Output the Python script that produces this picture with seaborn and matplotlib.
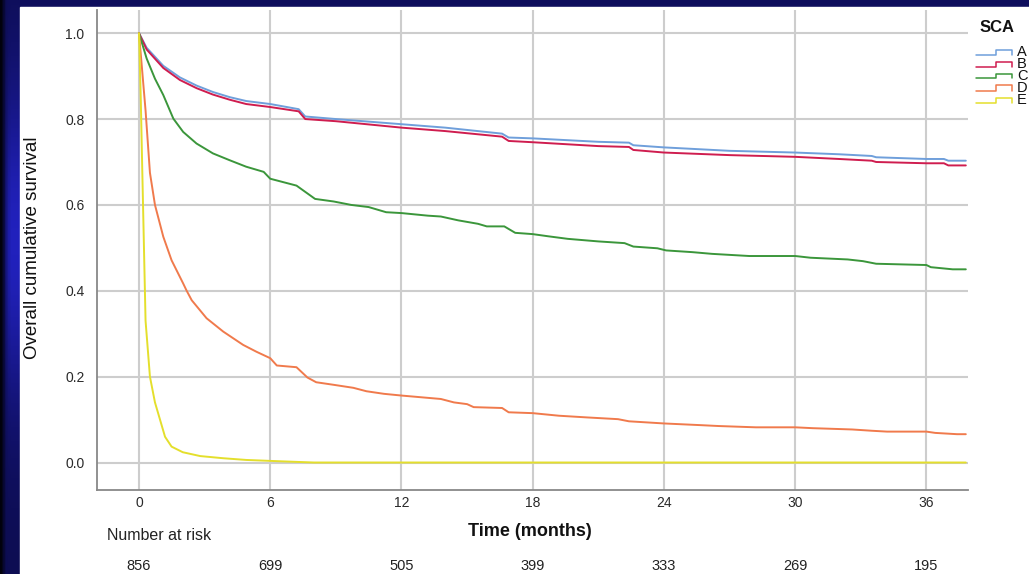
import numpy as np
import pandas as pd
import matplotlib.pyplot as plt
import matplotlib.transforms as mtransforms
from matplotlib.lines import Line2D
from matplotlib.patches import Rectangle
import seaborn as sns

# Kaplan-Meier curves (months, cumulative survival)
a_time = [0, 0.35, 1.11, 1.87, 2.63, 3.38, 4.15, 4.9, 6, 7.3, 7.6, 9, 12, 14, 16.6, 16.9, 18, 21,
          22.4, 22.6, 24, 27, 30, 32, 33.5, 33.7, 36, 36.8, 37, 37.8]
a_surv = [1.0, 0.966, 0.924, 0.897, 0.878, 0.863, 0.851, 0.842, 0.835, 0.823, 0.806, 0.800, 0.788,
          0.780, 0.766, 0.757, 0.755, 0.747, 0.745, 0.739, 0.734, 0.726, 0.722, 0.718, 0.714, 0.711,
          0.707, 0.707, 0.703, 0.703]
b_time = a_time
b_surv = [1.0, 0.962, 0.919, 0.891, 0.872, 0.857, 0.845, 0.835, 0.828, 0.818, 0.800, 0.795, 0.780,
          0.772, 0.759, 0.749, 0.746, 0.737, 0.735, 0.728, 0.722, 0.716, 0.712, 0.707, 0.703, 0.700,
          0.697, 0.697, 0.692, 0.692]
c_time = [0, 0.35, 0.73, 1.11, 1.57, 2.02, 2.63, 3.38, 4.15, 4.9, 5.7, 6, 7.2, 8.05, 8.9, 9.7, 10.5,
          11.3, 12, 13.2, 13.8, 14.6, 15.5, 15.9, 16.7, 17.2, 18, 18.7, 19.6, 21, 22.2, 22.6, 23.7,
          24.1, 25.3, 26.2, 27.9, 30, 30.7, 32.4, 33.1, 33.7, 36, 36.2, 37.2, 37.8]
c_surv = [1.0, 0.941, 0.894, 0.856, 0.801, 0.770, 0.743, 0.720, 0.704, 0.689, 0.677, 0.661, 0.645,
          0.614, 0.608, 0.600, 0.595, 0.583, 0.581, 0.575, 0.573, 0.564, 0.556, 0.550, 0.550, 0.535,
          0.532, 0.527, 0.521, 0.515, 0.511, 0.503, 0.499, 0.494, 0.490, 0.486, 0.481, 0.481, 0.477,
          0.473, 0.469, 0.463, 0.460, 0.455, 0.450, 0.450]
d_time = [0, 0.3, 0.5, 0.73, 1.11, 1.49, 2.02, 2.18, 2.41, 3.09, 3.85, 4.76, 5.37, 6, 6.3, 7.2, 7.7,
          8.1, 8.9, 9.8, 10.4, 11.2, 12, 12.9, 13.8, 14.4, 15, 15.3, 16.6, 16.9, 18, 19.2, 20.5, 21.9,
          22.4, 24, 25.7, 26.5, 28.2, 30, 30.8, 32.6, 33.5, 34.2, 36, 36.4, 37.4, 37.8]
d_surv = [1.0, 0.82, 0.675, 0.600, 0.526, 0.471, 0.417, 0.400, 0.378, 0.336, 0.305, 0.274, 0.258,
          0.243, 0.226, 0.222, 0.198, 0.187, 0.181, 0.174, 0.166, 0.160, 0.156, 0.152, 0.148, 0.140,
          0.136, 0.129, 0.127, 0.117, 0.115, 0.109, 0.105, 0.101, 0.096, 0.091, 0.087, 0.085, 0.082,
          0.082, 0.080, 0.077, 0.074, 0.072, 0.072, 0.069, 0.066, 0.066]
e_time = [0, 0.08, 0.15, 0.3, 0.5, 0.73, 0.96, 1.19, 1.49, 2.0, 2.8, 3.85, 4.9, 6.4, 8, 37.8]
e_surv = [1.0, 0.85, 0.68, 0.33, 0.20, 0.14, 0.10, 0.06, 0.037, 0.024, 0.015, 0.010, 0.006, 0.003,
          0.0, 0.0]

groups = ['A', 'B', 'C', 'D', 'E']
colors = {'A': '#6f9fdb', 'B': '#cf1d4f', 'C': '#3b963b', 'D': '#f07a4c', 'E': '#e4df2c'}

risk_months = [0, 6, 12, 18, 24, 30, 36]
at_risk = [856, 699, 505, 399, 333, 269, 195]

df = pd.concat([pd.DataFrame({'SCA': g, 'Time': t, 'Survival': s})
                for g, t, s in zip(groups, [a_time, b_time, c_time, d_time, e_time],
                                   [a_surv, b_surv, c_surv, d_surv, e_surv])], ignore_index=True)

sns.set_theme(style='whitegrid')
plt.rcParams['font.family'] = ['Liberation Sans', 'DejaVu Sans']

W, H = 1029, 574
fig = plt.figure(figsize=(W / 100, H / 100), dpi=100)


def px(x, y):
    return x / W, 1 - y / H


# dark blue slide background with white panel
bg = fig.add_axes([0, 0, 1, 1], zorder=-10)
bg.set_axis_off()
yy = np.linspace(0, 1, 120)[:, None]
xx = np.linspace(0, 1, 400)[None, :]
glow = np.exp(-((yy - 0.42) / 0.28) ** 2) * np.clip(xx * 150 - 0.3, 0, 1)
edge = np.clip(xx * 250, 0.15, 1)
img = np.zeros((120, 400, 3))
img[..., 0] = (0.05 + 0.08 * glow) * edge
img[..., 1] = (0.05 + 0.08 * glow) * edge
img[..., 2] = (0.32 + 0.42 * glow) * edge
bg.imshow(img, extent=[0, 1, 0, 1], aspect='auto')
bg.add_patch(Rectangle((20 / W, 0), 1, 1 - 7 / H, color='white', transform=bg.transAxes))
bg.set_xlim(0, 1)
bg.set_ylim(0, 1)

ax = fig.add_axes([97 / W, 1 - 490 / H, (968 - 97) / W, (490 - 10) / H])
sns.lineplot(data=df, x='Time', y='Survival', hue='SCA', palette=colors, estimator=None,
             sort=False, legend=False, linewidth=1.4, ax=ax)

ax.set_facecolor('white')
ax.set_xlim(-1.92, 37.9)
ax.set_ylim(-0.064, 1.054)
ax.set_xticks(risk_months)
ax.set_yticks([0, 0.2, 0.4, 0.6, 0.8, 1.0])
ax.set_yticklabels(['0.0', '0.2', '0.4', '0.6', '0.8', '1.0'])
ax.grid(True, color='#cdcdcd', linewidth=1.5)
ax.tick_params(axis='both', length=0, labelsize=10, labelcolor='#2a2a2a')
ax.tick_params(axis='y', pad=9)
ax.tick_params(axis='x', pad=4)
ax.set_xlabel('')
ax.set_ylabel('')
for side in ['top', 'right']:
    ax.spines[side].set_visible(False)
for side in ['left', 'bottom']:
    ax.spines[side].set_color('#888888')
    ax.spines[side].set_linewidth(1.3)

fig.text(*px(33, 248), 'Overall cumulative survival', rotation=90, ha='center', va='center',
         fontsize=13.5, color='#111111')
fig.text(*px(530, 531), 'Time (months)', ha='center', va='center', fontsize=13,
         fontweight='bold', color='#111111')
fig.text(*px(107, 536), 'Number at risk', ha='left', va='center', fontsize=11.5,
         color='#222222')

trans = mtransforms.blended_transform_factory(ax.transData, fig.transFigure)
for m, n in zip(risk_months, at_risk):
    ax.text(m, 1 - 566 / H, str(n), transform=trans, ha='center', va='center', fontsize=10.5,
            color='#222222')

# SPSS-style legend at the right edge
fig.text(*px(980, 28), 'SCA', ha='left', va='center', fontsize=12, fontweight='bold',
         color='#111111')
for i, g in enumerate(groups):
    yc = 52 + 12 * i
    xs = [976, 996, 996, 1012, 1012]
    ys = [yc + 2.5, yc + 2.5, yc - 2.5, yc - 2.5, yc + 2.5]
    fig.add_artist(Line2D([x / W for x in xs], [1 - y / H for y in ys], color=colors[g],
                          linewidth=1.1))
    fig.text(*px(1017, yc), g, ha='left', va='center', fontsize=10.5, color='#111111')

fig.savefig('out.png', dpi=100)
